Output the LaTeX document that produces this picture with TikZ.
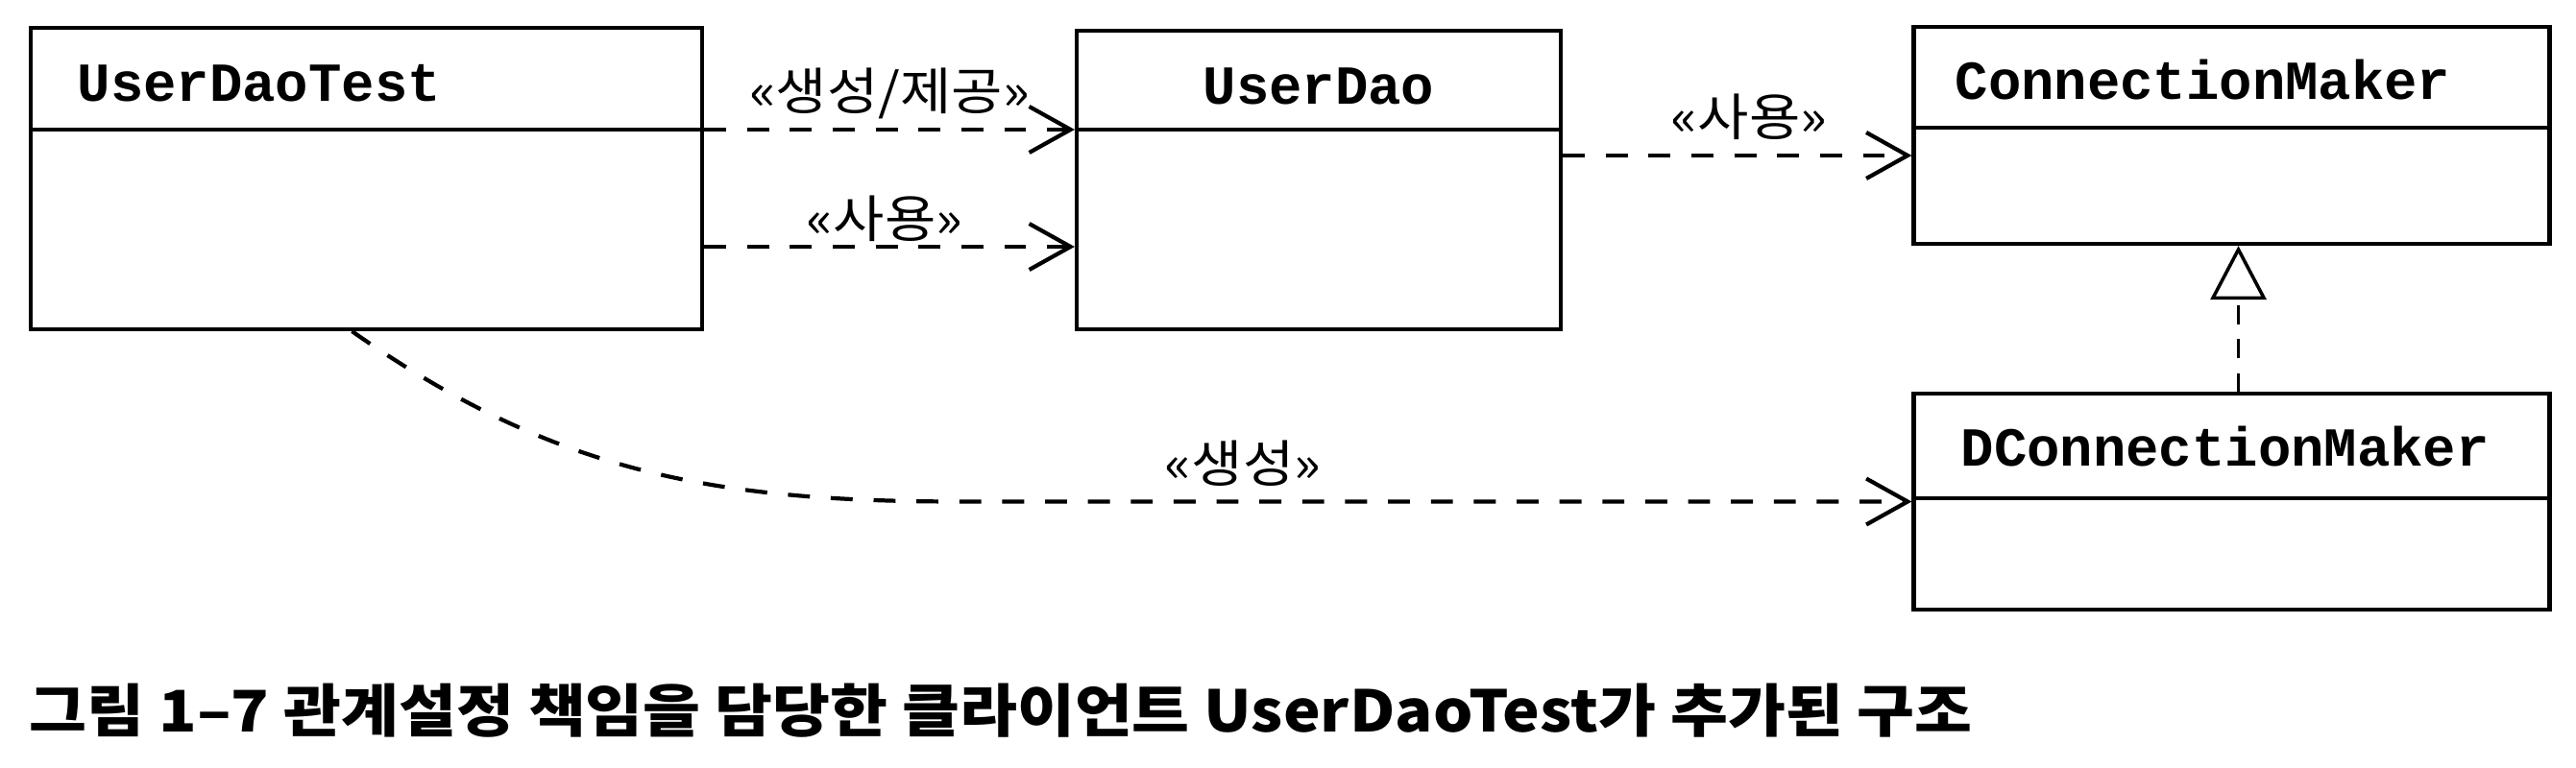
\documentclass[tikz,border=0pt]{standalone}
\usepackage{fontspec}
\setmonofont{Liberation Mono}
\newfontfamily\krfont[FakeStretch=1.1]{Noto Sans CJK KR}
\newfontfamily\krcapfont[FakeStretch=1.09]{Noto Sans CJK KR}
\usetikzlibrary{arrows.meta}

\newcommand{\classfont}{\ttfamily\bfseries\fontsize{16.3pt}{18pt}\selectfont}
\newcommand{\stereofont}{\krfont\fontsize{15pt}{17pt}\selectfont}
\newcommand{\captionfont}{\krcapfont\bfseries\fontsize{17pt}{19pt}\selectfont}

\tikzset{
  classbox/.style={draw, line width=1.2pt, fill=white, inner sep=0pt},
  classname/.style={font=\classfont, inner sep=0pt},
  divider/.style={line width=1.2pt},
  stereo/.style={font=\stereofont, inner sep=0pt},
  dep/.style={line width=1.2pt, dash pattern=on 6.5pt off 6.2pt, -{Straight Barb[length=4.3mm, width=4.8mm]}},
  realize/.style={line width=0.7pt, dash pattern=on 5.5pt off 4.5pt, -{Triangle[open, length=5.6mm, width=5.8mm, fill=white, line width=1pt]}}
}

\begin{document}
\begin{tikzpicture}
\useasboundingbox (0,0) rectangle (26.82,8);

\node[classbox, minimum width=6.99cm, minimum height=3.14cm] (udt) at (3.815,6.14) {};
\node[classbox, minimum width=5.04cm, minimum height=3.11cm] (ud) at (13.73,6.125) {};
\node[classbox, minimum width=6.62cm, minimum height=2.26cm] (cm) at (23.235,6.59) {};
\node[classbox, minimum width=6.62cm, minimum height=2.25cm] (dcm) at (23.235,2.775) {};

\draw[divider] (udt.west |- 0,6.65) -- (udt.east |- 0,6.65);
\draw[divider] (ud.west |- 0,6.65) -- (ud.east |- 0,6.65);
\draw[divider] (cm.west |- 0,6.67) -- (cm.east |- 0,6.67);
\draw[divider] (dcm.west |- 0,2.81) -- (dcm.east |- 0,2.81);

\node[classname, anchor=west] (udtname) at (0.80,7.13) {UserDaoTest};
\node[classname] (udname) at (13.73,7.10) {UserDao};
\node[classname, anchor=west] (cmname) at (20.35,7.17) {ConnectionMaker};
\node[classname, anchor=west] (dcmname) at (20.41,3.35) {DConnectionMaker};

\draw[dep] (udt.east |- 0,6.65) -- (ud.west |- 0,6.65);
\draw[dep] (udt.east |- 0,5.43) -- (ud.west |- 0,5.43);
\draw[dep] (ud.east |- 0,6.38) -- (cm.west |- 0,6.38);
\coordinate (bend) at ([xshift=-9.9cm]dcm.west);
\draw[dep] ([xshift=-1.5mm]udt.south) to[out=-35, in=180] (bend) -- (dcm.west);
\draw[realize] ([xshift=0.7mm]dcm.north) -- ([xshift=0.7mm]cm.south);

\node[stereo] (create1) at (9.26,7.03) {«생성/제공»};
\node[stereo] (use1) at (9.21,5.72) {«사용»};
\node[stereo] (use2) at (18.21,6.78) {«사용»};
\node[stereo] (create2) at (12.94,3.17) {«생성»};

\node[font=\captionfont, inner sep=0pt, anchor=west] (caption) at (0.30,0.60) {그림 1–7 관계설정 책임을 담당한 클라이언트 UserDaoTest가 추가된 구조};

\end{tikzpicture}
\end{document}
